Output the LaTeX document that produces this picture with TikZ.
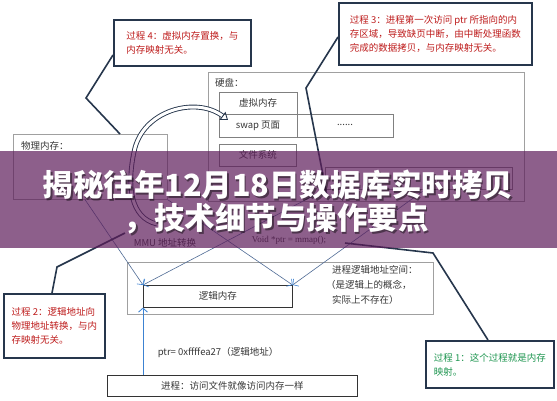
\documentclass[tikz,border=0pt]{standalone}
\usepackage{fontspec}
\setmainfont{Liberation Serif}
\newfontfamily\cjk{Noto Sans CJK SC}
\usetikzlibrary{arrows.meta}

\definecolor{calloutnavy}{RGB}{38,54,76}
\definecolor{calloutred}{RGB}{190,28,28}
\definecolor{calloutgreen}{RGB}{30,150,80}
\definecolor{boxgray}{RGB}{160,160,160}
\definecolor{inkgray}{RGB}{55,55,55}
\definecolor{mapslate}{RGB}{80,108,150}
\definecolor{arrowblue}{RGB}{60,130,210}
\definecolor{bandpurple}{RGB}{93,28,90}

\begin{document}
\begin{tikzpicture}[x=1pt, y=-1pt,
    callout/.style={draw=calloutnavy, line width=1.8pt, fill=white, anchor=north west,
        align=left, inner xsep=7pt, inner ysep=0pt, font=\cjk\fontsize{9.5}{14}\selectfont},
    plainbox/.style={draw=boxgray, line width=0.6pt, anchor=north west, inner sep=0pt},
    cellbox/.style={draw=gray, line width=0.6pt, anchor=north west, inner sep=0pt,
        text=inkgray, font=\cjk\fontsize{9.5}{12}\selectfont},
    darkbox/.style={draw=black!80, line width=0.6pt, anchor=north west, inner sep=0pt,
        text=inkgray, font=\cjk\fontsize{9.5}{12}\selectfont},
    labeltext/.style={inner sep=0pt, text=inkgray, font=\cjk\fontsize{9.5}{15}\selectfont},
    latintext/.style={inner sep=0pt, text=inkgray, font=\fontsize{9}{12}\selectfont},
    tailline/.style={draw=calloutnavy, line width=1.6pt, line join=miter},
    mapline/.style={draw=mapslate, line width=0.6pt,
        -{Straight Barb[length=4pt, width=9pt, color=arrowblue]}},
    upline/.style={draw=arrowblue, line width=0.8pt,
        -{Straight Barb[length=4pt, width=9pt]}},
    curvearrow/.style={draw=calloutnavy, line width=0.9pt, double=white, double distance=3pt,
        -{Triangle[open, length=7pt, width=10pt]}},
    titletext/.style={inner sep=0pt, text=white, font=\cjk\bfseries\fontsize{30.5}{31}\selectfont}
]

    % --- Dimensions ---
    \def\BandTop{151}
    \def\BandBot{248}

    \useasboundingbox (0,0) rectangle (557,400);
    \fill[white] (0,0) rectangle (557,400);

    % --- Physical memory ---
    \node[plainbox, minimum width=154, minimum height=65] (phys) at (13,134) {};
    \node[labeltext, anchor=west] (physlabel) at (21,146) {物理内存：};

    % --- Disk ---
    \node[plainbox, minimum width=316, minimum height=129] (disk) at (208,72) {};
    \node[labeltext, anchor=west] (disklabel) at (215,83) {硬盘：};
    \node[cellbox, minimum width=78, minimum height=45] (vmemcol) at (219,92) {};
    \node[cellbox, minimum width=174, minimum height=23] (swaprow) at (219,114) {};
    \node[labeltext] (vmem) at (258,103) {虚拟内存};
    \node[labeltext] (swap) at (258,126) {swap 页面};
    \node[labeltext] (dots) at (345,125) {......};
    \node[cellbox, minimum width=77, minimum height=22] (fs) at (219,144) {文件系统};
    \node[cellbox, minimum width=187, minimum height=22] (file) at (325,167) {};

    % --- Logical address space ---
    \node[plainbox, minimum width=306, minimum height=52] (space) at (127,262) {};
    \node[darkbox, minimum width=149, minimum height=22] (logic) at (143,285) {逻辑内存};
    \node[labeltext, align=left, anchor=north west] (spacenote) at (326,265)
        {\hspace{6pt}进程逻辑地址空间：\\（是逻辑上的概念，\\\hspace{6pt}实际上不存在）};

    % --- Process ---
    \node[darkbox, minimum width=250, minimum height=21] (proc) at (107,375) {进程：访问文件就像访问内存一样};
    \node[labeltext] (ptr) at (218,353) {ptr= 0xffffea27（逻辑地址）};
    \node[labeltext] (mmu) at (165,243) {MMU 地址转换};
    \node[latintext] (mmap) at (289,240) {Void *ptr = mmap();};

    % --- Mappings ---
    \draw[mapline] ([xshift=72pt]phys.south west) -- (logic.north west);
    \draw[mapline] (phys.south east) -- (logic.north east);
    \draw[mapline] (file.south west) -- (logic.north west);
    \draw[mapline] ([xshift=100pt]file.south west) -- (logic.north east);
    \draw[upline] (logic.south west |- proc.north) -- (logic.south west);

    % swap arrow
    \coordinate (curvefoot) at (157,224);
    \coordinate (swapin) at (228,120);
    \draw[curvearrow] (curvefoot) .. controls (130,218) and (127,185) .. (134,152)
        .. controls (142,110) and (196,96) .. (swapin);

    % --- Callout tails ---
    \coordinate (bend4) at (86,98);
    \coordinate (bend3) at (306,88);
    \coordinate (bend2) at (57,267);
    \coordinate (tip2) at (125,233);
    \coordinate (bend1) at (433,253);
    \coordinate (tip1) at (345,243);
    \draw[tailline] (113,55) -- (bend4) -- ([xshift=107pt]phys.north west);
    \draw[tailline] (338,37) -- (bend3) -- ([xshift=2pt,yshift=-6pt]file.south west);
    \draw[tailline] (52,293) -- (bend2) -- (tip2);
    \draw[tailline] (488,340) -- (bend1) -- (tip1);

    % --- Callouts ---
    \node[callout, text=calloutred, minimum width=137, minimum height=46] (step4) at (113,19)
        {过程 4：虚拟内存置换，与\\内存映射无关。};
    \node[callout, text=calloutred, minimum width=193, minimum height=62] (step3) at (338,2)
        {过程 3：进程第一次访问 ptr 所指向的内\\存区域，导致缺页中断，由中断处理函数\\完成的数据拷贝，与内存映射无关。};
    \node[callout, text=calloutred, minimum width=101, minimum height=64] (step2) at (3,293)
        {过程 2：逻辑地址向\\物理地址转换，与内\\存映射无关。};
    \node[callout, text=calloutgreen, minimum width=128, minimum height=47] (step1) at (425,340)
        {过程 1：这个过程就是内存\\映射。};

    % --- Title band ---
    \fill[bandpurple, fill opacity=0.7] (0,\BandTop) rectangle (557,\BandBot);
    \node[titletext, text=black, opacity=0.45] at (279.5,186.5) {揭秘往年12月18日数据库实时拷贝};
    \node[titletext, text=black, opacity=0.45] at (277.5,220.5) {，技术细节与操作要点};
    \node[titletext] (title1) at (278,185) {揭秘往年12月18日数据库实时拷贝};
    \node[titletext] (title2) at (276,219) {，技术细节与操作要点};

\end{tikzpicture}
\end{document}
